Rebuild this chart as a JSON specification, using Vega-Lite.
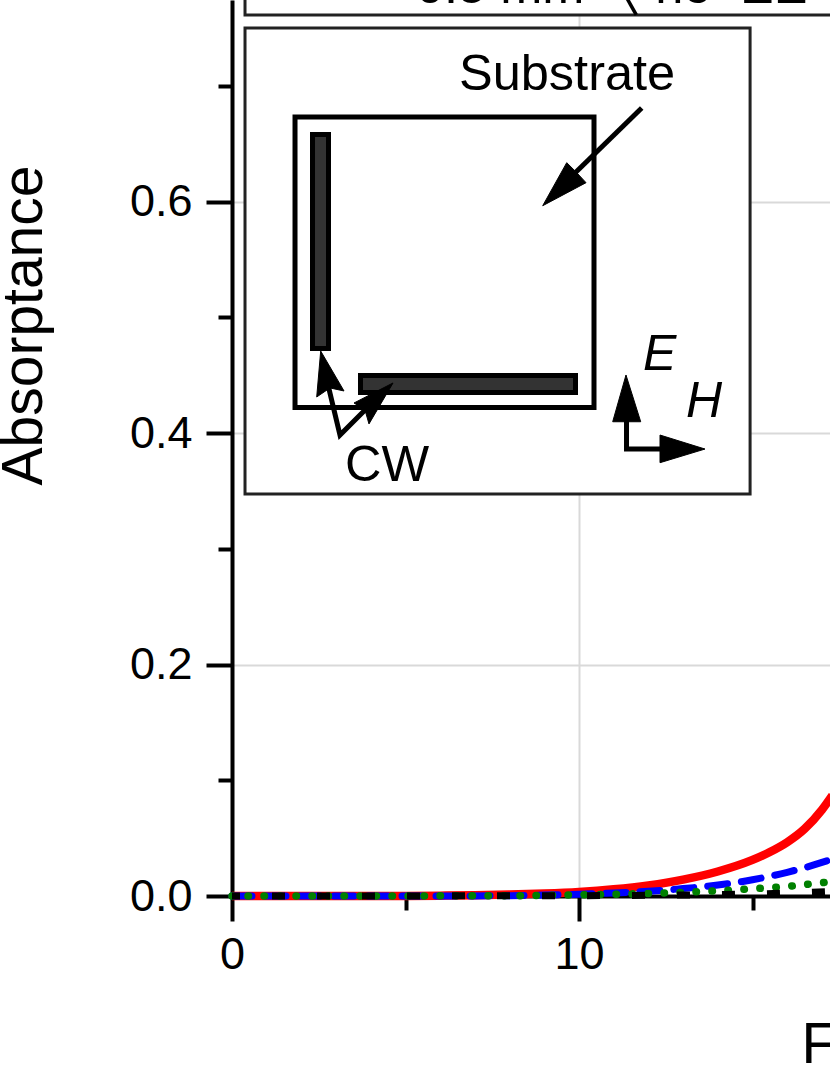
{
"$schema":"https://vega.github.io/schema/vega-lite/v6.json",
"width":598,"height":896,
"autosize":{"type":"none"},
"padding":{"left":232,"top":0,"right":0,"bottom":179},
"background":"white",
"config":{"view":{"stroke":null},"font":"Liberation Sans"},
"datasets":{
"curves":[
{"s":"a","f":0,"v":0},{"s":"a","f":4,"v":0},{"s":"a","f":5,"v":0.0001},{"s":"a","f":6,"v":0.0003},{"s":"a","f":7,"v":0.0006},{"s":"a","f":8,"v":0.0012},{"s":"a","f":9,"v":0.0021},{"s":"a","f":10,"v":0.0035},{"s":"a","f":11,"v":0.0058},{"s":"a","f":12,"v":0.0092},{"s":"a","f":13,"v":0.0142},{"s":"a","f":14,"v":0.0212},{"s":"a","f":15,"v":0.0312},{"s":"a","f":15.5,"v":0.038},{"s":"a","f":16,"v":0.0465},{"s":"a","f":16.5,"v":0.058},{"s":"a","f":17,"v":0.0745},{"s":"a","f":17.3,"v":0.087},
{"s":"b","f":0,"v":0},{"s":"b","f":6,"v":0},{"s":"b","f":8,"v":0.0003},{"s":"b","f":9,"v":0.0008},{"s":"b","f":10,"v":0.0015},{"s":"b","f":11,"v":0.0026},{"s":"b","f":12,"v":0.0042},{"s":"b","f":13,"v":0.0064},{"s":"b","f":14,"v":0.0095},{"s":"b","f":15,"v":0.014},{"s":"b","f":16,"v":0.0205},{"s":"b","f":17,"v":0.029},{"s":"b","f":17.3,"v":0.032},
{"s":"c","f":0,"v":0},{"s":"c","f":8,"v":0.0002},{"s":"c","f":10,"v":0.001},{"s":"c","f":11,"v":0.0015},{"s":"c","f":12,"v":0.0022},{"s":"c","f":13,"v":0.0032},{"s":"c","f":14,"v":0.0045},{"s":"c","f":15,"v":0.0062},{"s":"c","f":16,"v":0.0083},{"s":"c","f":17,"v":0.0115},{"s":"c","f":17.3,"v":0.0125},
{"s":"d","f":0,"v":0},{"s":"d","f":10,"v":0.0003},{"s":"d","f":12,"v":0.0006},{"s":"d","f":14,"v":0.0012},{"s":"d","f":16,"v":0.0025},{"s":"d","f":17.3,"v":0.004}
],
"frames":[
{"x1":0.375,"x2":18,"y1":0.7615,"y2":0.79},
{"x1":0.375,"x2":14.93,"y1":0.3475,"y2":0.7502}
],
"square":[{"x1":1.816,"x2":10.432,"y1":0.4222,"y2":0.6733}],
"bars":[
{"x1":2.32,"x2":2.781,"y1":0.4732,"y2":0.6582},
{"x1":3.703,"x2":9.899,"y1":0.4352,"y2":0.4499}
],
"shafts":[
{"id":"cw","o":1,"x":2.767,"y":0.4417},{"id":"cw","o":2,"x":3.112,"y":0.3984},{"id":"cw","o":3,"x":3.977,"y":0.4244},
{"id":"sub","o":1,"x":11.807,"y":0.6811},{"id":"sub","o":2,"x":9.914,"y":0.6258},
{"id":"eh","o":1,"x":11.369,"y":0.4157},{"id":"eh","o":2,"x":11.369,"y":0.3863},{"id":"eh","o":3,"x":12.478,"y":0.3863}
],
"heads":[
{"id":"t1","o":1,"x":2.556,"y":0.471},{"id":"t1","o":2,"x":2.441,"y":0.4313},{"id":"t1","o":3,"x":2.824,"y":0.4391},{"id":"t1","o":4,"x":3.228,"y":0.4365},{"id":"t1","o":5,"x":2.556,"y":0.471},
{"id":"t2","o":1,"x":4.64,"y":0.4434},{"id":"t2","o":2,"x":3.516,"y":0.4261},{"id":"t2","o":3,"x":3.833,"y":0.42},{"id":"t2","o":4,"x":3.948,"y":0.408},{"id":"t2","o":5,"x":4.64,"y":0.4434},
{"id":"t3","o":1,"x":8.954,"y":0.5966},{"id":"t3","o":2,"x":9.646,"y":0.6338},{"id":"t3","o":3,"x":9.914,"y":0.6258},{"id":"t3","o":4,"x":10.202,"y":0.6165},{"id":"t3","o":5,"x":8.954,"y":0.5966},
{"id":"t4","o":1,"x":11.354,"y":0.4503},{"id":"t4","o":2,"x":10.971,"y":0.4099},{"id":"t4","o":3,"x":11.778,"y":0.4099},{"id":"t4","o":4,"x":11.354,"y":0.4503},
{"id":"t5","o":1,"x":13.631,"y":0.3863},{"id":"t5","o":2,"x":12.334,"y":0.3984},{"id":"t5","o":3,"x":12.334,"y":0.3745},{"id":"t5","o":4,"x":13.631,"y":0.3863}
],
"leader":[{"x":11.3,"y":0.7803,"o":1},{"x":11.65,"y":0.7615,"o":2}],
"labels":[
{"x":6.542,"y":0.6966,"t":"Substrate"},
{"x":3.256,"y":0.3587,"t":"CW"},
{"x":5.3,"y":0.7718,"t":"0.5 mm"},
{"x":12.2,"y":0.7718,"t":"no"},
{"x":14.64,"y":0.7718,"t":"EE"}
],
"italics":[
{"x":11.844,"y":0.4546,"t":"E"},
{"x":13.084,"y":0.4143,"t":"H"}
]
},
"layer":[
{"data":{"name":"frames"},
 "mark":{"type":"rect","fill":"white","stroke":"#222222","strokeWidth":3},
 "encoding":{
  "x":{"field":"x1","type":"quantitative","scale":{"domain":[0,17.233],"nice":false,"zero":false},
   "axis":{"values":[0,5,10,15],"grid":true,"gridColor":{"condition":{"test":"datum.value%10==0","value":"#d9d9d9"},"value":"transparent"},"gridWidth":2,
    "domainColor":"black","domainWidth":4,"tickColor":"black","tickWidth":4,"tickSize":{"condition":{"test":"datum.value%10==0","value":25},"value":14},
    "labelExpr":"datum.value%10==0 ? datum.label : ''","labelFont":"Liberation Sans","labelFontSize":45,"labelColor":"black","labelPadding":11,"labelFlush":false,"labelOverlap":false,"zindex":0,
    "title":"Frequency (GHz)","titleFont":"Liberation Sans","titleFontSize":57,"titleFontWeight":"normal","titleColor":"black","titleAlign":"left","titleAnchor":"start","titleBaseline":"alphabetic","titleX":569,"titleY":166}},
  "x2":{"field":"x2"},
  "y":{"field":"y1","type":"quantitative","scale":{"domain":[0,0.7744],"nice":false,"zero":false},
   "axis":{"values":[0,0.1,0.2,0.3,0.4,0.5,0.6,0.7],"grid":true,"gridColor":{"condition":{"test":"round(datum.value*10)%2==0","value":"#d9d9d9"},"value":"transparent"},"gridWidth":2,
    "domainColor":"black","domainWidth":4,"tickColor":"black","tickWidth":4,"tickSize":{"condition":{"test":"round(datum.value*10)%2==0","value":26},"value":14},
    "labelExpr":"round(datum.value*10)%2==0 ? format(datum.value,'.1f') : ''","labelFont":"Liberation Sans","labelFontSize":45,"labelColor":"black","labelPadding":14,"labelFlush":false,"labelOverlap":false,"zindex":0,
    "title":"Absorptance","titleFont":"Liberation Sans","titleFontSize":57,"titleFontWeight":"normal","titleColor":"black","titleAngle":-90,"titleAlign":"center","titleBaseline":"alphabetic","titleX":-191,"titleY":325}},
  "y2":{"field":"y2"}
 }},
{"data":{"name":"square"},
 "mark":{"type":"rect","fill":"white","stroke":"black","strokeWidth":5},
 "encoding":{"x":{"field":"x1","type":"quantitative"},"x2":{"field":"x2"},"y":{"field":"y1","type":"quantitative"},"y2":{"field":"y2"}}},
{"data":{"name":"bars"},
 "mark":{"type":"rect","fill":"#333333","stroke":"black","strokeWidth":5},
 "encoding":{"x":{"field":"x1","type":"quantitative"},"x2":{"field":"x2"},"y":{"field":"y1","type":"quantitative"},"y2":{"field":"y2"}}},
{"data":{"name":"shafts"},
 "mark":{"type":"line","stroke":"black","strokeWidth":5,"interpolate":"linear"},
 "encoding":{"x":{"field":"x","type":"quantitative"},"y":{"field":"y","type":"quantitative"},"detail":{"field":"id"},"order":{"field":"o"}}},
{"data":{"name":"heads"},
 "mark":{"type":"line","fill":"black","stroke":"black","strokeWidth":1,"interpolate":"linear"},
 "encoding":{"x":{"field":"x","type":"quantitative"},"y":{"field":"y","type":"quantitative"},"detail":{"field":"id"},"order":{"field":"o"}}},
{"data":{"name":"leader"},
 "mark":{"type":"line","stroke":"black","strokeWidth":3.5},
 "encoding":{"x":{"field":"x","type":"quantitative"},"y":{"field":"y","type":"quantitative"},"order":{"field":"o"}}},
{"data":{"name":"labels"},
 "mark":{"type":"text","align":"left","baseline":"alphabetic","font":"Liberation Sans","fontSize":50.5,"color":"black"},
 "encoding":{"x":{"field":"x","type":"quantitative"},"y":{"field":"y","type":"quantitative"},"text":{"field":"t"}}},
{"data":{"name":"italics"},
 "mark":{"type":"text","align":"left","baseline":"alphabetic","font":"Liberation Sans","fontStyle":"italic","fontSize":50,"color":"black"},
 "encoding":{"x":{"field":"x","type":"quantitative"},"y":{"field":"y","type":"quantitative"},"text":{"field":"t"}}},
{"data":{"name":"curves"},"transform":[{"filter":"datum.s=='a'"}],
 "mark":{"type":"line","stroke":"#ff0000","strokeWidth":8.5,"interpolate":"monotone"},
 "encoding":{"x":{"field":"f","type":"quantitative"},"y":{"field":"v","type":"quantitative"}}},
{"data":{"name":"curves"},"transform":[{"filter":"datum.s=='b'"}],
 "mark":{"type":"line","stroke":"#0000ff","strokeWidth":7,"strokeDash":[20,14],"strokeCap":"round","interpolate":"monotone"},
 "encoding":{"x":{"field":"f","type":"quantitative"},"y":{"field":"v","type":"quantitative"}}},
{"data":{"name":"curves"},"transform":[{"filter":"datum.s=='c'"}],
 "mark":{"type":"line","stroke":"#008000","strokeWidth":7.5,"strokeDash":[0.5,15.5],"strokeCap":"round","interpolate":"monotone"},
 "encoding":{"x":{"field":"f","type":"quantitative"},"y":{"field":"v","type":"quantitative"}}},
{"data":{"name":"curves"},"transform":[{"filter":"datum.s=='d'"}],
 "mark":{"type":"line","stroke":"black","strokeWidth":7,"strokeDash":[13,32],"strokeDashOffset":-40,"interpolate":"monotone"},
 "encoding":{"x":{"field":"f","type":"quantitative"},"y":{"field":"v","type":"quantitative"}}}
]
}
